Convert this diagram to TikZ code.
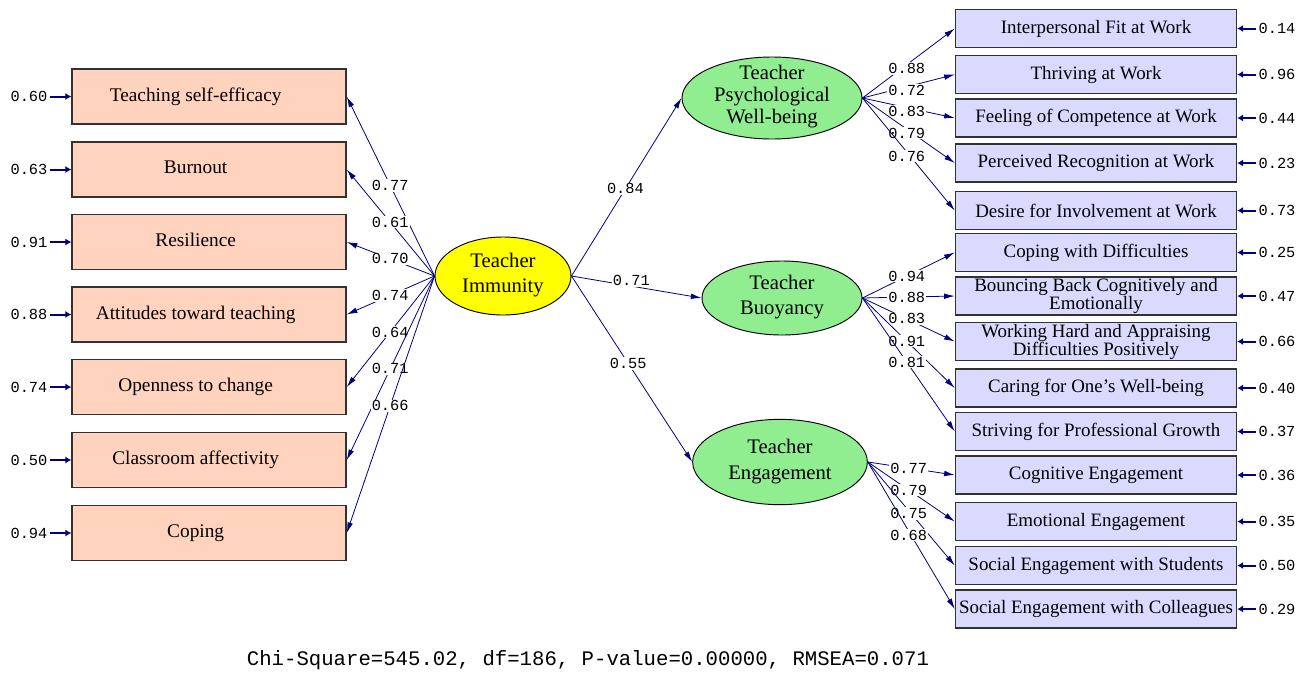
\documentclass[tikz,border=0pt]{standalone}
\usepackage{fontspec}
\setmainfont{Liberation Serif}
\setmonofont{Liberation Mono}
\usetikzlibrary{shapes.geometric,arrows.meta}
\definecolor{navy}{RGB}{0,0,128}
\definecolor{peach}{RGB}{255,211,189}
\definecolor{lav}{RGB}{218,218,255}
\definecolor{lgreen}{RGB}{144,238,144}
\definecolor{yel}{RGB}{255,255,0}
\definecolor{boxline}{RGB}{50,50,50}
\newcommand{\etxt}[2]{\raisebox{#1}[0pt][0pt]{\makebox[0pt]{\begin{tabular}{@{}c@{}}#2\end{tabular}}}}
\newcommand{\ltxt}[1]{\raisebox{3pt}{#1}\hspace*{20pt}}
\begin{document}
\begin{tikzpicture}[x=0.75pt,y=-0.75pt,
 lbox/.style={draw=boxline, line width=1.1pt, fill=peach, minimum width=205.5pt, minimum height=41.25pt, inner sep=0pt, font=\fontsize{14.5}{14.5}\selectfont},
 rbox/.style={draw=boxline, line width=1.1pt, fill=lav, minimum width=210.75pt, minimum height=28.5pt, inner sep=0pt, align=center, font=\fontsize{14.2}{13.5}\selectfont},
 lat/.style={ellipse, draw=black, line width=0.7pt, inner sep=0pt},
 arr/.style={draw=navy, line width=0.6pt, -{Latex[length=8pt,width=4.2pt]}},
 earr/.style={draw=navy, line width=1.5pt, -{Latex[length=4.5pt,width=5.5pt]}, shorten <=1pt},
 lbl/.style={font=\fontsize{11.5}{12}\selectfont\ttfamily, fill=white, inner sep=0.8pt, text=black},
 elbl/.style={font=\fontsize{11.5}{12}\selectfont\ttfamily, inner sep=1pt, text=black}
]
\useasboundingbox (0,0) rectangle (1311,672);

% left indicator boxes
\node[lbox] (b1) at (209,96.5) {\ltxt{Teaching self-efficacy}};
\node[lbox] (b2) at (209,169.5) {\ltxt{Burnout}};
\node[lbox] (b3) at (209,242) {\ltxt{Resilience}};
\node[lbox] (b4) at (209,314.5) {\ltxt{Attitudes toward teaching}};
\node[lbox] (b5) at (209,387) {\ltxt{Openness to change}};
\node[lbox] (b6) at (209,460) {\ltxt{Classroom affectivity}};
\node[lbox] (b7) at (209,533) {\ltxt{Coping}};

% latent variables
\node[lat, fill=yel, minimum width=102pt, minimum height=58.5pt, font=\fontsize{15.5}{18.75}\selectfont] (TI) at (503,276) {\etxt{-3pt}{Teacher\\Immunity}};
\node[lat, fill=lgreen, minimum width=135pt, minimum height=61.5pt, font=\fontsize{15.5}{16.5}\selectfont] (TPW) at (772,98) {\etxt{-3pt}{Teacher\\Psychological\\Well-being}};
\node[lat, fill=lgreen, minimum width=120pt, minimum height=55.5pt, font=\fontsize{15.5}{18.75}\selectfont] (TB) at (782,298) {\etxt{-3pt}{Teacher\\Buoyancy}};
\node[lat, fill=lgreen, minimum width=131pt, minimum height=64pt, font=\fontsize{15.5}{20}\selectfont] (TE) at (780,462) {\etxt{-3pt}{Teacher\\Engagement}};

% right indicator boxes
\node[rbox] (r1) at (1096,28.5) {Interpersonal Fit at Work};
\node[rbox] (r2) at (1096,74.5) {Thriving at Work};
\node[rbox] (r3) at (1096,118) {Feeling of Competence at Work};
\node[rbox] (r4) at (1096,163) {Perceived Recognition at Work};
\node[rbox] (r5) at (1096,210.5) {Desire for Involvement at Work};
\node[rbox] (r6) at (1096,252.5) {Coping with Difficulties};
\node[rbox] (r7) at (1096,296) {Bouncing Back Cognitively and\\Emotionally};
\node[rbox] (r8) at (1096,341.5) {Working Hard and Appraising\\Difficulties Positively};
\node[rbox] (r9) at (1096,388) {Caring for One’s Well-being};
\node[rbox] (r10) at (1096,431.5) {Striving for Professional Growth};
\node[rbox] (r11) at (1096,475) {Cognitive Engagement};
\node[rbox] (r12) at (1096,521.5) {Emotional Engagement};
\node[rbox] (r13) at (1096,565.5) {Social Engagement with Students};
\node[rbox] (r14) at (1096,609) {Social Engagement with Colleagues};

% Teacher Immunity loadings
\draw[arr] (TI.west) -- node[lbl,pos=0.505]{0.77} (b1.east);
\draw[arr] (TI.west) -- node[lbl,pos=0.505]{0.61} (b2.east);
\draw[arr] (TI.west) -- node[lbl,pos=0.505]{0.70} (b3.east);
\draw[arr] (TI.west) -- node[lbl,pos=0.505]{0.74} (b4.east);
\draw[arr] (TI.west) -- node[lbl,pos=0.505]{0.64} (b5.east);
\draw[arr] (TI.west) -- node[lbl,pos=0.505]{0.71} (b6.east);
\draw[arr] (TI.west) -- node[lbl,pos=0.505]{0.66} (b7.east);

% structural paths
\draw[arr] (TI.east) -- node[lbl,pos=0.49]{0.84} (TPW.west);
\draw[arr] (TI.east) -- node[lbl,pos=0.46,yshift=4pt]{0.71} (TB.west);
\draw[arr] (TI.east) -- node[lbl,pos=0.47]{0.55} (TE.west);

% TPW loadings
\draw[arr] (TPW.east) -- node[lbl,pos=0.48,yshift=-3pt]{0.88} (r1.west);
\draw[arr] (TPW.east) -- node[lbl,pos=0.48,yshift=-3pt]{0.72} (r2.west);
\draw[arr] (TPW.east) -- node[lbl,pos=0.48,yshift=-3pt]{0.83} (r3.west);
\draw[arr] (TPW.east) -- node[lbl,pos=0.48,yshift=-3pt]{0.79} (r4.west);
\draw[arr] (TPW.east) -- node[lbl,pos=0.48,yshift=-3pt]{0.76} (r5.west);

% TB loadings
\draw[arr] (TB.east) -- node[lbl,pos=0.48]{0.94} (r6.west);
\draw[arr] (TB.east) -- node[lbl,pos=0.48]{0.88} (r7.west);
\draw[arr] (TB.east) -- node[lbl,pos=0.48]{0.83} (r8.west);
\draw[arr] (TB.east) -- node[lbl,pos=0.48]{0.91} (r9.west);
\draw[arr] (TB.east) -- node[lbl,pos=0.48]{0.81} (r10.west);

% TE loadings
\draw[arr] (TE.east) -- node[lbl,pos=0.47]{0.77} (r11.west);
\draw[arr] (TE.east) -- node[lbl,pos=0.47]{0.79} (r12.west);
\draw[arr] (TE.east) -- node[lbl,pos=0.47,yshift=-2pt]{0.75} (r13.west);
\draw[arr] (TE.east) -- node[lbl,pos=0.47,yshift=-3pt]{0.68} (r14.west);

% left error terms
\node[elbl] (e1) at (29,96.5) {0.60};
\node[elbl] (e2) at (29,169.5) {0.63};
\node[elbl] (e3) at (29,242) {0.91};
\node[elbl] (e4) at (29,314.5) {0.88};
\node[elbl] (e5) at (29,387) {0.74};
\node[elbl] (e6) at (29,460) {0.50};
\node[elbl] (e7) at (29,533) {0.94};
\foreach \i in {1,...,7} {\draw[earr] (e\i) -- (b\i);}

% right error terms
\node[elbl] (f1) at (1277,28.5) {0.14};
\node[elbl] (f2) at (1277,74.5) {0.96};
\node[elbl] (f3) at (1277,118) {0.44};
\node[elbl] (f4) at (1277,163) {0.23};
\node[elbl] (f5) at (1277,210.5) {0.73};
\node[elbl] (f6) at (1277,252.5) {0.25};
\node[elbl] (f7) at (1277,296) {0.47};
\node[elbl] (f8) at (1277,341.5) {0.66};
\node[elbl] (f9) at (1277,388) {0.40};
\node[elbl] (f10) at (1277,431.5) {0.37};
\node[elbl] (f11) at (1277,475) {0.36};
\node[elbl] (f12) at (1277,521.5) {0.35};
\node[elbl] (f13) at (1277,565.5) {0.50};
\node[elbl] (f14) at (1277,609) {0.29};
\foreach \i in {1,...,14} {\draw[earr] (f\i) -- (r\i);}

% fit statistics
\node[font=\fontsize{15.5}{16}\selectfont\ttfamily, inner sep=0pt] (fit) at (588,660) {Chi-Square=545.02, df=186, P-value=0.00000, RMSEA=0.071};
\end{tikzpicture}
\end{document}
